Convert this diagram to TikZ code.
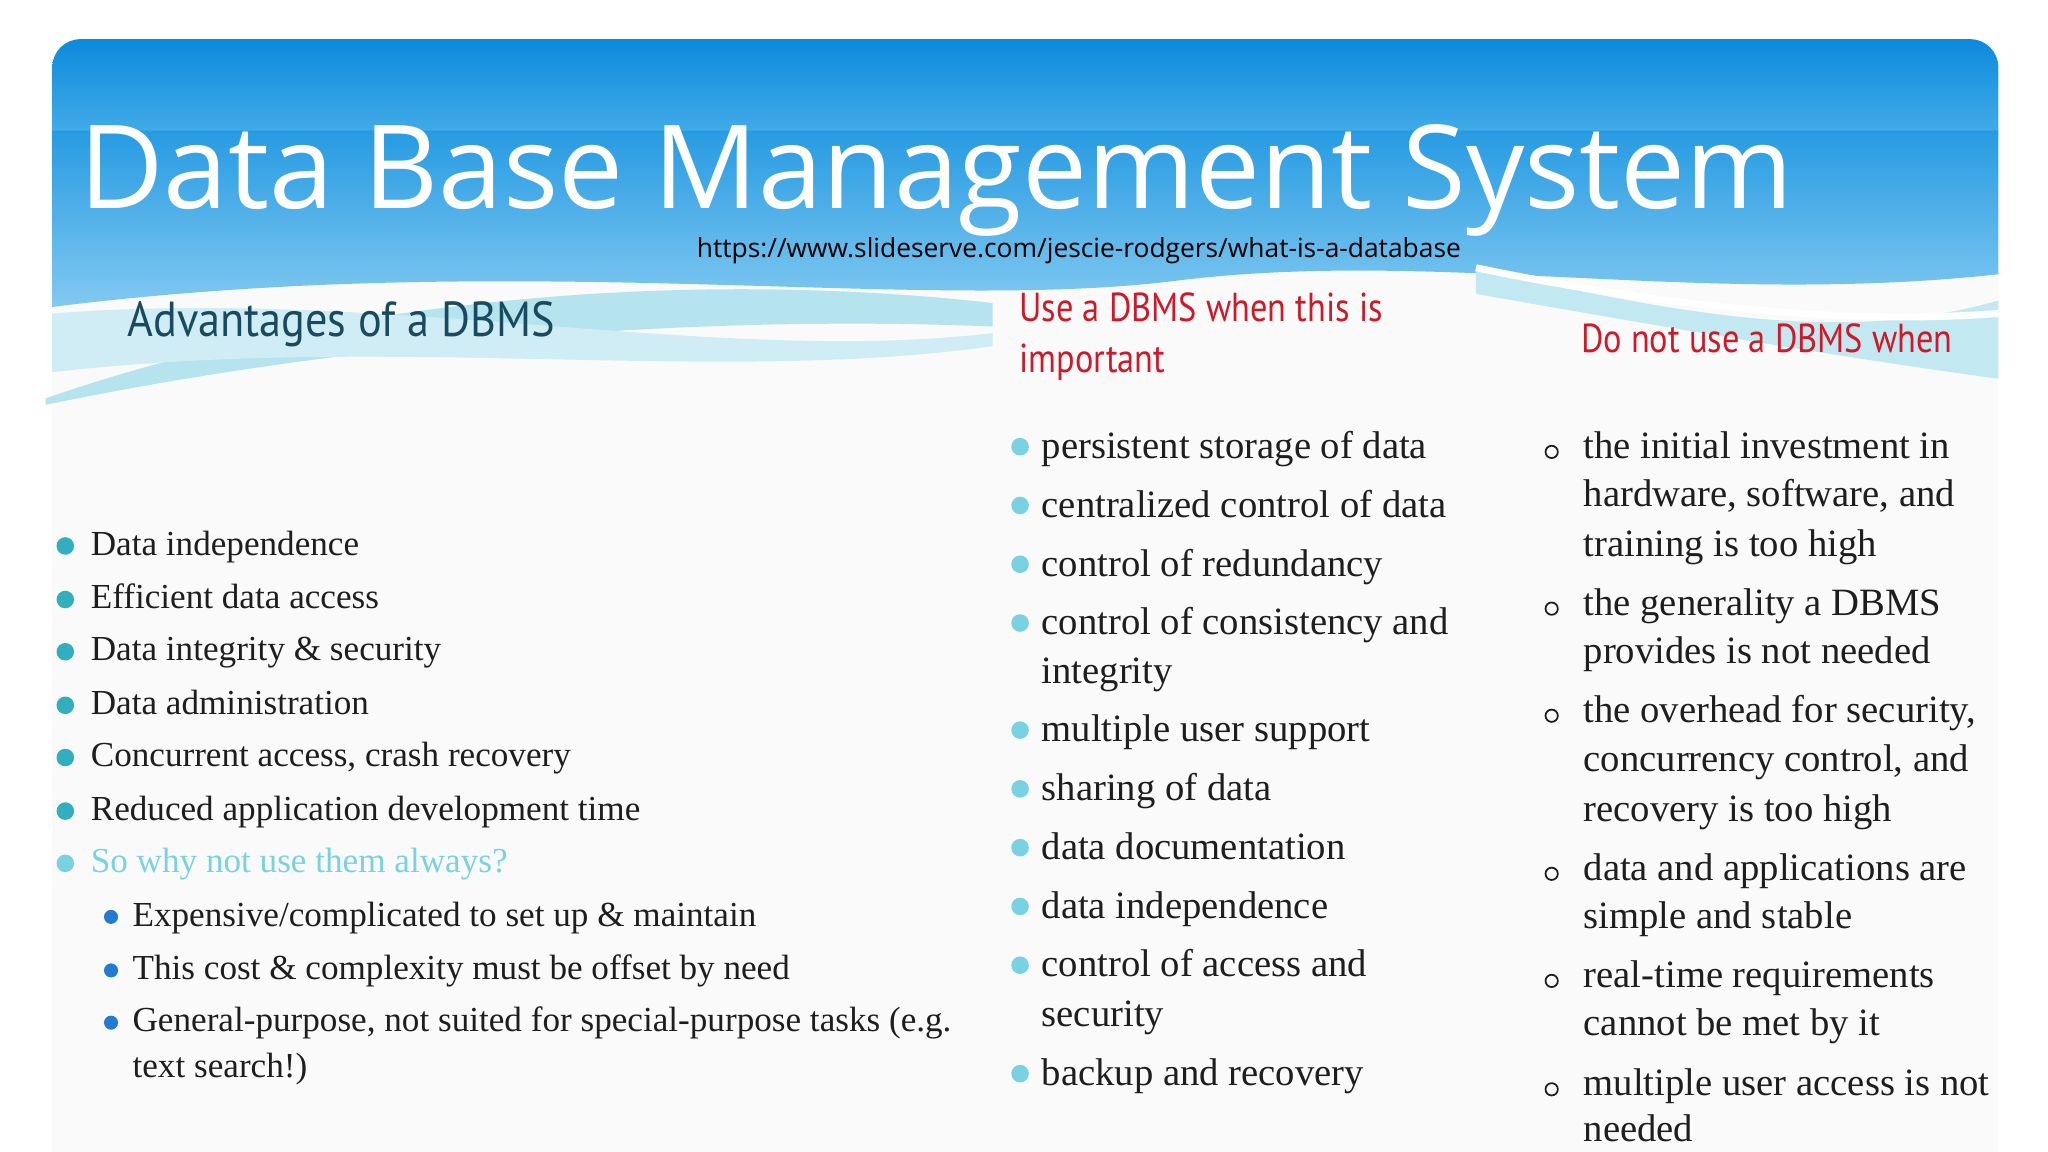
\documentclass[tikz,border=0pt]{standalone}
\usepackage{fontspec}
\setmainfont{Liberation Serif}
\newfontfamily\titlefont{Open Sans}
\newfontfamily\headfont{PT Sans}
\definecolor{hdrtop}{RGB}{12,138,220}
\definecolor{hdrbot}{RGB}{80,180,235}
\definecolor{wave}{RGB}{120,205,225}
\definecolor{teal}{RGB}{50,175,190}
\definecolor{lteal}{RGB}{120,210,225}
\definecolor{dteal}{RGB}{25,75,95}
\definecolor{redh}{RGB}{205,25,40}
\definecolor{txt}{RGB}{30,30,30}
\tikzset{
  lt/.style={anchor=base west,font=\fontsize{10}{12}\selectfont,text=txt,inner sep=0pt},
  mt/.style={anchor=base west,font=\fontsize{11}{13}\selectfont,text=txt,inner sep=0pt},
  dot/.style={circle,fill=teal,inner sep=0pt,minimum size=5pt},
  mdot/.style={circle,fill=lteal,inner sep=0pt,minimum size=5pt},
  odot/.style={circle,draw=txt,line width=0.5pt,inner sep=0pt,minimum size=3.5pt},
  hd/.style={anchor=base west,inner sep=0pt,font=\headfont\fontsize{11.5}{13}\selectfont,text=redh},
}
\begin{document}
\begin{tikzpicture}[x=0.01306cm,y=-0.01306cm]
\useasboundingbox (0,0) rectangle (1568,882);
\fill[white] (0,0) rectangle (1568,882);
% body
\fill[gray!4] (40,200) rectangle (1530,882);
% header with wavy lower edge
\shade[top color=hdrtop,bottom color=hdrbot,rounded corners=8pt] (40,30) rectangle (1530,120);
\shade[top color=hdrtop!60!hdrbot,bottom color=hdrbot!70!white] (40,100) -- (1530,100) -- (1530,210) .. controls (1300,235) and (1100,190) .. (900,215) .. controls (700,240) and (400,190) .. (40,235) -- cycle;
% light cyan waves
\fill[wave!55] (35,305) .. controls (250,230) and (520,205) .. (760,232) -- (760,250) .. controls (520,240) and (250,265) .. (35,310) -- cycle;
\fill[wave!35] (40,240) .. controls (300,220) and (550,280) .. (760,255) -- (760,265) .. controls (550,295) and (300,255) .. (40,285) -- cycle;
\fill[wave!45] (1130,205) .. controls (1300,245) and (1420,262) .. (1530,230) -- (1530,290) .. controls (1420,275) and (1300,255) .. (1130,225) -- cycle;
\draw[white,line width=2pt] (1130,205) .. controls (1250,230) and (1400,250) .. (1530,240);
% title
\node[anchor=base west,inner sep=0pt,font=\titlefont\fontsize{33}{36}\selectfont,text=white] (title) at (60,160) {Data Base Management System};
\node[anchor=base,inner sep=0pt,font=\titlefont\fontsize{7.5}{9}\selectfont,text=black] (url) at (826,197) {https://www.slideserve.com/jescie-rodgers/what-is-a-database};
% headings
\node[anchor=base west,inner sep=0pt,font=\headfont\fontsize{14}{16}\selectfont,text=dteal] (h1) at (97,258) {\scalebox{0.9}[1]{Advantages of a DBMS}};
\node[hd] (h2a) at (780,246) {\scalebox{0.85}[1]{Use a DBMS when this is}};
\node[hd] (h2b) at (780,285) {\scalebox{0.85}[1]{important}};
\begin{scope}
\clip (1100,200) rectangle (1530,300);
\node[hd] (h3) at (1210,270) {\scalebox{0.85}[1]{Do not use a DBMS when}};
\end{scope}
% left column
\foreach \y/\t [count=\i] in {425/Data independence,466/Efficient data access,506/Data integrity \& security,547/Data administration,587/{Concurrent access, crash recovery},628/Reduced application development time}{
  \node[dot] (ld\i) at (50,\y-7) {};
  \node[lt] (l\i) at (69,\y) {\t};
}
\node[dot,fill=lteal] (ld7) at (50,661) {};
\node[lt,text=lteal] (l7) at (69,668) {So why not use them always?};
\node[dot,fill=teal!70!blue,minimum size=4pt] (sd1) at (85,702) {};
\node[lt] (s1) at (101,709) {Expensive{/}complicated to set up \& maintain};
\node[dot,fill=teal!70!blue,minimum size=4pt] (sd2) at (85,743) {};
\node[lt] (s2) at (101,750) {This cost \& complexity must be offset by need};
\node[dot,fill=teal!70!blue,minimum size=4pt] (sd3) at (85,783) {};
\node[lt] (s3) at (101,790) {General-purpose, not suited for special-purpose tasks (e.g.};
\node[lt] (s4) at (101,825) {text search!)};
% middle column
\foreach \y/\t/\b [count=\i] in {351/persistent storage of data/1,396/centralized control of data/1,441/control of redundancy/1,486/control of consistency and/1,523/integrity/0,568/multiple user support/1,613/sharing of data/1,658/data documentation/1,703/data independence/1,748/control of access and/1,786/security/0,831/backup and recovery/1}{
  \ifnum\b=1 \node[mdot] (md\i) at (781,\y-9) {};\fi
  \node[mt] (m\i) at (797,\y) {\t};
}
% right column
\begin{scope}
\clip (1100,300) rectangle (1530,878);
\foreach \y/\t/\b [count=\i] in {351/the initial investment in/1,388/{hardware, software, and}/0,426/training is too high/0,471/the generality a DBMS/1,508/provides is not needed/0,553/{the overhead for security,}/1,591/{concurrency control, and}/0,629/recovery is too high/0,674/data and applications are/1,711/simple and stable/0,756/real-time requirements/1,793/cannot be met by it/0,839/multiple user access is not/1,874/needed/0}{
  \ifnum\b=1 \node[odot] (rd\i) at (1188,\y-5) {};\fi
  \node[mt] (r\i) at (1212,\y) {\t};
}
\end{scope}
\end{tikzpicture}
\end{document}
